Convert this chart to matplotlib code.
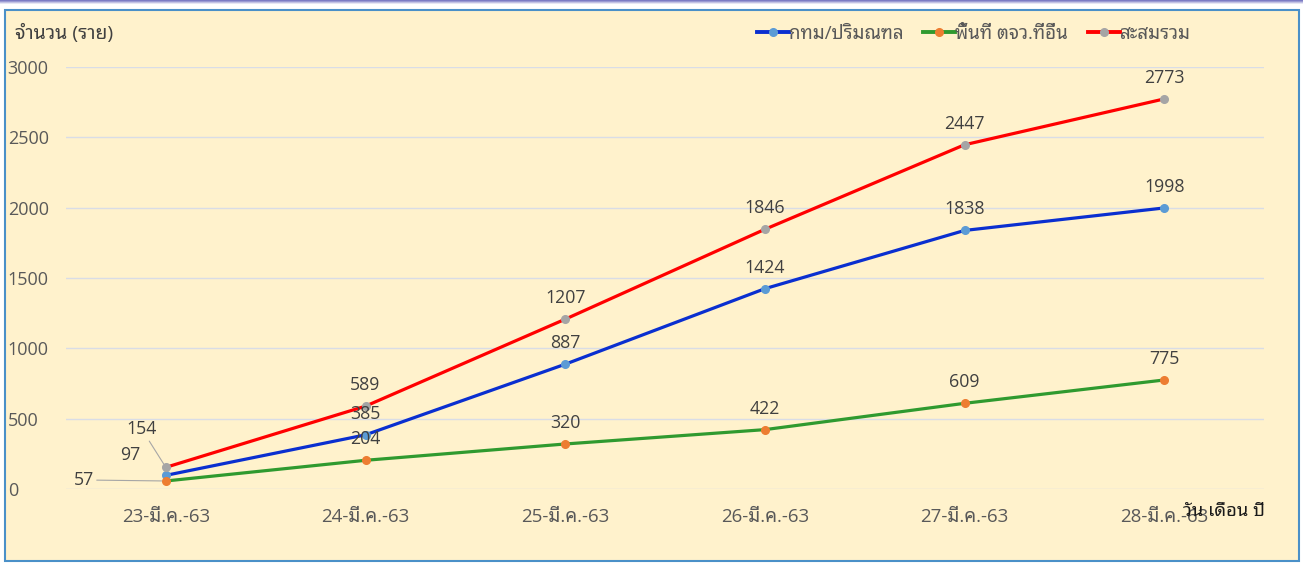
import matplotlib
matplotlib.use("Agg")
import matplotlib.pyplot as plt
from matplotlib.patches import Rectangle
from matplotlib.lines import Line2D

# ---- data ----
categories = ["23-มี.ค.-63", "24-มี.ค.-63", "25-มี.ค.-63",
              "26-มี.ค.-63", "27-มี.ค.-63", "28-มี.ค.-63"]
series_names = ["กทม/ปริมณฑล", "พื้นที่ ตจว.ที่อื่น", "สะสมรวม"]
bkk = [97, 385, 887, 1424, 1838, 1998]
other = [57, 204, 320, 422, 609, 775]
total = [154, 589, 1207, 1846, 2447, 2773]
y_ticks = [0, 500, 1000, 1500, 2000, 2500, 3000]
y_title = "จำนวน (ราย)"
x_title = "วัน เดือน ปี"

FONT = ["Open Sans", "Noto Sans Thai Looped", "DejaVu Sans"]
plt.rcParams["font.family"] = FONT

W, H = 1303, 563
fig = plt.figure(figsize=(W / 100, H / 100), dpi=100)
fig.patch.set_facecolor("white")

def px(x0, y0, w, h):
    return (x0 / W, 1 - (y0 + h) / H, w / W, h / H)

# top gradient strip
for i, c in enumerate(["#7B7BC4", "#9A9AD2", "#C2C2E4", "#E6E6F3"]):
    x0, y0, w, h = px(0, i, W, 1)
    fig.patches.append(Rectangle((x0, y0), w, h, transform=fig.transFigure,
                                 facecolor=c, edgecolor="none", zorder=-2))
# panel
x0, y0, w, h = px(5, 10, 1294, 551)
fig.patches.append(Rectangle((x0, y0), w, h, transform=fig.transFigure,
                             facecolor="#FFF2CC", edgecolor="#4A90C8",
                             linewidth=1.5, zorder=-2))

ax = fig.add_axes(px(66, 67, 1198, 422))
ax.set_facecolor("none")
ax.set_xlim(-0.5, len(categories) - 0.5)
ax.set_ylim(0, 3000)
ax.set_yticks(y_ticks)
ax.set_yticklabels([str(v) for v in y_ticks])
ax.set_xticks(range(len(categories)))
ax.set_xticklabels(categories)
for s in ax.spines.values():
    s.set_visible(False)
ax.grid(axis="y", color="#D9DDE6", linewidth=1.0)
ax.set_axisbelow(True)
ax.tick_params(axis="both", length=0, labelcolor="#595959")
ax.tick_params(axis="y", pad=42, labelsize=13)
ax.tick_params(axis="x", pad=14, labelsize=13.5)
for lab in ax.get_yticklabels():
    lab.set_horizontalalignment("left")

x = list(range(len(categories)))
specs = [
    (bkk, "#0A2FD0", "#5B9BD5"),
    (other, "#2F9A2F", "#ED7D31"),
    (total, "#FF0000", "#A5A5A5"),
]
handles = []
for vals, lc, mc in specs:
    ax.plot(x, vals, color=lc, linewidth=2.3, zorder=3)
    ax.plot(x, vals, linestyle="none", marker="o", markersize=5.5,
            markerfacecolor=mc, markeredgecolor=mc, zorder=4)
    handles.append(Line2D([0], [0], color=lc, linewidth=2.8, marker="o",
                          markersize=5.5, markerfacecolor=mc, markeredgecolor=mc))

lbl_kw = dict(textcoords="offset points", ha="center", va="center",
              fontsize=12.8, color="#404040", zorder=5)
up = 21 * 0.72
for vals in (bkk, other, total):
    for i, v in enumerate(vals):
        if i == 0:
            continue
        ax.annotate(str(v), (i, v), xytext=(0, up), **lbl_kw)

# first-point labels with leader lines
leader = dict(arrowstyle="-", color="#A6A6A6", lw=0.8, shrinkA=0, shrinkB=3)
ax.annotate(str(total[0]), (0, total[0]), xytext=(-24 * 0.72, 38 * 0.72),
            arrowprops=leader, **lbl_kw)
ax.annotate(str(bkk[0]), (0, bkk[0]), xytext=(-36 * 0.72, 20 * 0.72), **lbl_kw)
ax.annotate(str(other[0]), (0, other[0]), xytext=(-82 * 0.72, 1 * 0.72),
            arrowprops=leader, **lbl_kw)

# titles
fig.text(15 / W, 1 - 33 / H, y_title, ha="left", va="center",
         fontsize=14, color="#404040")
fig.text(1265 / W, 1 - 511 / H, x_title, ha="right", va="center",
         fontsize=13.2, color="#1A1A1A")

fig.legend(handles, series_names, loc="center left",
           bbox_to_anchor=(757 / W, 1 - 34 / H),
           ncol=3, frameon=False, fontsize=13.5, labelcolor="#595959",
           handlelength=1.7, handletextpad=0.0, columnspacing=1.05,
           numpoints=1, borderpad=0, borderaxespad=0)

fig.savefig("out.png", dpi=100, facecolor=fig.get_facecolor())
